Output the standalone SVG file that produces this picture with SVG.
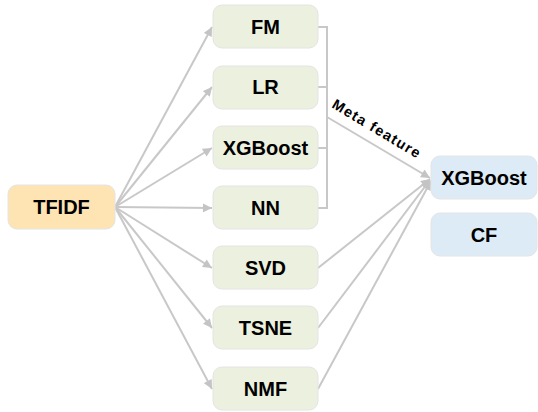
<svg xmlns="http://www.w3.org/2000/svg" width="538" height="412" viewBox="0 0 538 412">
<defs>
<marker id="ah" viewBox="0 0 10 10" refX="10" refY="5" markerWidth="5" markerHeight="4.5" orient="auto" markerUnits="strokeWidth">
<path d="M0,0 L10,5 L0,10 z" fill="#c4c4c4"/>
</marker>
</defs>
<style>
.box{stroke:#e4e4e4;stroke-width:1}
.g{fill:#ebf1de}
.o{fill:#fde4b2}
.b{fill:#ddebf7}
.t{font-family:"Liberation Sans",Arial,sans-serif;font-weight:bold;font-size:20px;fill:#000;text-anchor:middle;dominant-baseline:central}
.c{fill:none;stroke:#c8c8c8;stroke-width:2}
.a{marker-end:url(#ah)}
.m{font-family:"Liberation Sans",Arial,sans-serif;font-weight:bold;font-size:14.5px;fill:#000}
</style>
<rect width="538" height="412" fill="#fff"/>
<g id="connectors">
<path class="c a" d="M115,207 L212,27"/>
<path class="c a" d="M115,207 L212,87"/>
<path class="c a" d="M115,207 L212,148"/>
<path class="c a" d="M115,207 L212,208"/>
<path class="c a" d="M115,207 L212,268"/>
<path class="c a" d="M115,207 L212,328"/>
<path class="c a" d="M115,207 L212,389"/>
<path class="c" d="M318,27 H327 M318,87 H327 M318,148 H327 M318,208 H327 M327,26 V209"/>
<path class="c a" d="M327,117 L430,178"/>
<path class="c a" d="M318,268 L430,179"/>
<path class="c a" d="M318,328 L430,180"/>
<path class="c a" d="M318,389 L431,181"/>
<text class="m" transform="translate(331,107) rotate(31)" textLength="100" lengthAdjust="spacing">Meta  feature</text>
</g>
<g id="tfidf"><rect class="box o" x="8" y="185" width="107" height="44" rx="9"/><text class="t" x="61.5" y="207">TFIDF</text></g>
<g id="fm"><rect class="box g" x="213" y="5" width="105" height="43" rx="9"/><text class="t" x="265.5" y="27">FM</text></g>
<g id="lr"><rect class="box g" x="213" y="66" width="105" height="43" rx="9"/><text class="t" x="265.5" y="87">LR</text></g>
<g id="xgb1"><rect class="box g" x="213" y="126" width="105" height="43" rx="9"/><text class="t" x="265.5" y="148">XGBoost</text></g>
<g id="nn"><rect class="box g" x="213" y="186" width="105" height="43" rx="9"/><text class="t" x="265.5" y="208">NN</text></g>
<g id="svd"><rect class="box g" x="213" y="246" width="105" height="43" rx="9"/><text class="t" x="265.5" y="268">SVD</text></g>
<g id="tsne"><rect class="box g" x="213" y="306" width="105" height="43" rx="9"/><text class="t" x="265.5" y="328">TSNE</text></g>
<g id="nmf"><rect class="box g" x="213" y="367" width="105" height="43" rx="9"/><text class="t" x="265.5" y="389">NMF</text></g>
<g id="xgb2"><rect class="box b" x="431" y="156" width="106" height="43" rx="9"/><text class="t" x="484" y="178">XGBoost</text></g>
<g id="cf"><rect class="box b" x="431" y="213" width="106" height="43" rx="9"/><text class="t" x="484" y="235">CF</text></g>
</svg>
